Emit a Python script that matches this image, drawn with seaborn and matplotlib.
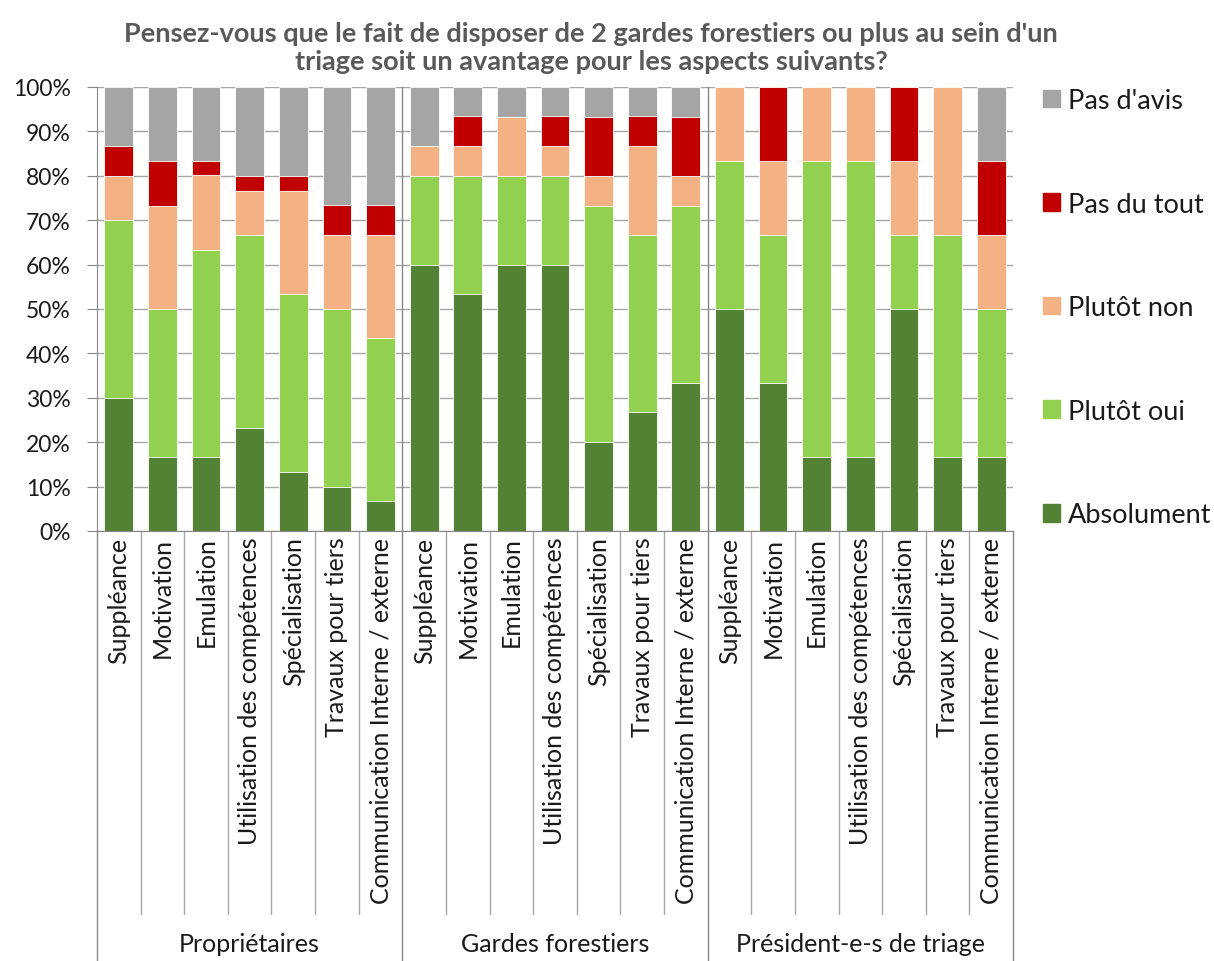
import matplotlib.pyplot as plt
import seaborn as sns
import numpy as np
import pandas as pd
from matplotlib.patches import Patch
from matplotlib.ticker import PercentFormatter
import matplotlib.transforms as mtransforms

groupes = ["Propriétaires", "Gardes forestiers", "Président-e-s de triage"]
aspects = ["Suppléance", "Motivation", "Emulation", "Utilisation des compétences",
           "Spécialisation", "Travaux pour tiers", "Communication Interne / externe"]
reponses = ["Absolument", "Plutôt oui", "Plutôt non", "Pas du tout", "Pas d'avis"]
couleurs = ["#548235", "#92D050", "#F4B183", "#C00000", "#A5A5A5"]

# valeurs en %, 7 aspects x 3 groupes (Propriétaires, Gardes, Présidents)
absolument = [30, 16.7, 16.7, 23.3, 13.3, 10, 6.7,
              60, 53.3, 60, 60, 20, 26.7, 33.3,
              50, 33.3, 16.7, 16.7, 50, 16.7, 16.7]
plutot_oui = [40, 33.3, 46.7, 43.3, 40, 40, 36.7,
              20, 26.7, 20, 20, 53.3, 40, 40,
              33.3, 33.3, 66.7, 66.7, 16.7, 50, 33.3]
plutot_non = [10, 23.3, 16.7, 10, 23.3, 16.7, 23.3,
              6.7, 6.7, 13.3, 6.7, 6.7, 20, 6.7,
              16.7, 16.7, 16.7, 16.7, 16.7, 33.3, 16.7]
pas_du_tout = [6.7, 10, 3.3, 3.3, 3.3, 6.7, 6.7,
               0, 6.7, 0, 6.7, 13.3, 6.7, 13.3,
               0, 16.7, 0, 0, 16.7, 0, 16.7]
pas_avis = [13.3, 16.7, 16.7, 20, 20, 26.7, 26.7,
            13.3, 6.7, 6.7, 6.7, 6.7, 6.7, 6.7,
            0, 0, 0, 0, 0, 0, 16.7]

sns.set_style("white")
plt.rcParams['font.family'] = ['Lato', 'DejaVu Sans']
plt.rcParams['text.color'] = '#1a1a1a'

n = len(groupes) * len(aspects)
df = pd.DataFrame({"pos": np.arange(n)})
series = [absolument, plutot_oui, plutot_non, pas_du_tout, pas_avis]
cum = np.zeros(n)
for rep, vals in zip(reponses, series):
    cum = cum + np.array(vals) / 100
    df[rep] = np.minimum(cum, 1.0)

fig = plt.figure(figsize=(12.14, 9.62), dpi=100)
ax = fig.add_axes([97 / 1214, 1 - 532 / 962, (1013 - 97) / 1214, (532 - 88) / 962])

# barres cumulées : on dessine du haut vers le bas
for rep, col in list(zip(reponses, couleurs))[::-1]:
    sns.barplot(data=df, x="pos", y=rep, color=col, saturation=1, width=0.66,
                errorbar=None, edgecolor="white", linewidth=0.6, ax=ax)

ax.set_xlim(-0.5, n - 0.5)
ax.set_ylim(0, 1)
ax.set_yticks(np.arange(0, 1.01, 0.1))
ax.yaxis.set_major_formatter(PercentFormatter(1.0, decimals=0))
ax.yaxis.grid(True, color="#A6A6A6", lw=1)
ax.set_axisbelow(True)
ax.set_xlabel("")
ax.set_ylabel("")
ax.tick_params(axis="y", labelsize=16.5, length=7, color="#868686", pad=12, left=True,
               labelcolor="#1a1a1a")
ax.tick_params(axis="x", length=0, pad=4, labelcolor="#1a1a1a")
ax.set_xticks(range(n))
ax.set_xticklabels(aspects * len(groupes), rotation=90, va="top", fontsize=18)
for s in ["top", "right"]:
    ax.spines[s].set_visible(False)
ax.spines["left"].set_color("#868686")
ax.spines["bottom"].set_color("#868686")

trans = mtransforms.blended_transform_factory(ax.transData, ax.transAxes)
for i in range(n + 1):
    x = i - 0.5
    if i % len(aspects) == 0:
        ax.plot([x, x], [1 if 0 < i < n else 0, -0.968], color="#868686", lw=1,
                transform=trans, clip_on=False)
    else:
        ax.plot([x, x], [0, -0.8626], color="#A6A6A6", lw=1,
                transform=trans, clip_on=False)
for g, name in enumerate(groupes):
    ax.text(g * len(aspects) + 3, -0.93, name, transform=trans, ha="center",
            va="center", fontsize=18)

fig.text(0.487, 1 - 48 / 962, "Pensez-vous que le fait de disposer de 2 gardes forestiers ou plus au sein d'un\n"
         "triage soit un avantage pour les aspects suivants?", ha="center", va="center",
         fontsize=19.5, fontweight="bold", color="#595959", linespacing=1.25)

handles = [Patch(color=c) for c in couleurs[::-1]]
fig.legend(handles, reponses[::-1], loc="upper left", bbox_to_anchor=(1043 / 1214, 1 - 89 / 962),
           frameon=False, fontsize=19.5, handlelength=0.63, handleheight=0.63,
           labelspacing=2.9, handletextpad=0.3, borderpad=0, borderaxespad=0)

fig.savefig("out.png", dpi=100)
